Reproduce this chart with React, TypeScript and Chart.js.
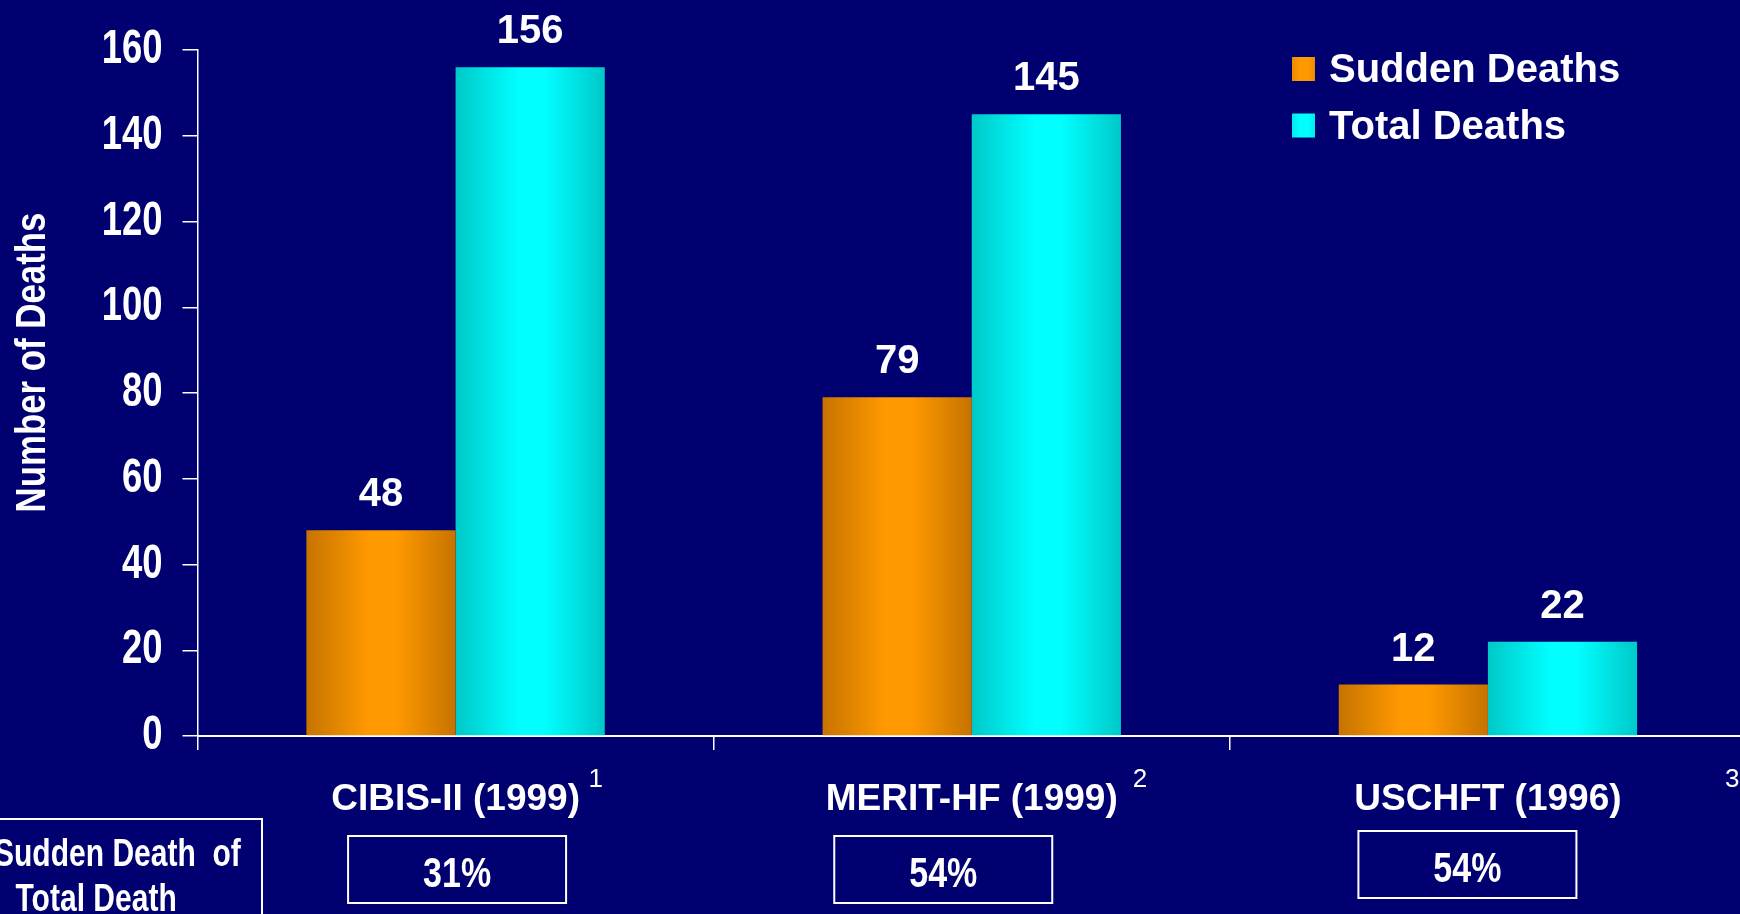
import React, { useEffect, useRef } from 'react';
import { Chart, registerables } from 'chart.js';

Chart.register(...registerables);

// ---- data ----
const studies = ['CIBIS-II (1999)', 'MERIT-HF (1999)', 'USCHFT (1996)'];
const citationMarks = ['1', '2', '3'];
const suddenDeaths = [48, 79, 12];
const totalDeaths = [156, 145, 22];
const suddenShareLabels = ['31%', '54%', '54%'];
const seriesNames = ['Sudden Deaths', 'Total Deaths'];
const yAxisTitle = 'Number of Deaths';
const shareCaption = ['Sudden Death  of', 'Total Death'];
const yMax = 160;
const yStep = 20;

// ---- look ----
const NAVY = '#000070';
const WHITE = '#FFFFFF';
const ORANGE = { dark: '#C67300', light: '#FF9900' };
const CYAN = { dark: '#00C8C8', light: '#00FFFF' };
const SANS = "'Liberation Sans', Arial, Helvetica, sans-serif";

const CANVAS_W = 1746;
const CANVAS_H = 914;
const CATEGORY_PCT = 0.578;

// layout of the annotations below the axis, relative to each category centre
const SUPERSCRIPT_DX = [133, 161, 237];
const SHARE_BOX_DX = [1.5, -28.5, -20.5];
const SHARE_BOX_TOP = [836, 836, 831];
const SHARE_BOX_W = 218;
const SHARE_BOX_H = 67;

type Shades = { dark: string; light: string };

function shadeStops(g: CanvasGradient, s: Shades) {
  g.addColorStop(0, s.dark);
  g.addColorStop(0.42, s.light);
  g.addColorStop(0.6, s.light);
  g.addColorStop(1, s.dark);
  return g;
}

// horizontal "cylinder" shading, one gradient per bar
function barFill(c: any, s: Shades) {
  const chart = c.chart;
  const xs = chart.scales && chart.scales.x;
  if (c.type !== 'data' || !xs || !chart.chartArea) return s.light;
  const n = chart.data.labels.length;
  const catW = xs.width / n;
  const nSets = chart.data.datasets.length;
  const barW = (catW * CATEGORY_PCT) / nSets;
  const left = xs.getPixelForValue(c.dataIndex) - (catW * CATEGORY_PCT) / 2 + c.datasetIndex * barW;
  return shadeStops(chart.ctx.createLinearGradient(left, 0, left + barW, 0), s);
}

const shades: Shades[] = [ORANGE, CYAN];

// condensed bold lettering: a bold face squeezed horizontally
function narrowText(
  ctx: CanvasRenderingContext2D,
  text: string,
  x: number,
  y: number,
  size: number,
  squeeze: number,
  align: CanvasTextAlign,
  baseline: CanvasTextBaseline = 'alphabetic',
  rotate = 0
) {
  ctx.save();
  ctx.translate(x, y);
  if (rotate) ctx.rotate(rotate);
  ctx.scale(squeeze, 1);
  ctx.font = `bold ${size}px ${SANS}`;
  ctx.textAlign = align;
  ctx.textBaseline = baseline;
  ctx.fillText(text, 0, 0);
  ctx.restore();
}

const decorations = {
  id: 'decorations',
  beforeDraw(chart: any) {
    const { ctx } = chart;
    ctx.save();
    ctx.fillStyle = NAVY;
    ctx.fillRect(0, 0, chart.width, chart.height);
    ctx.restore();
  },
  afterDraw(chart: any) {
    const { ctx } = chart;
    const xs = chart.scales.x;
    const ys = chart.scales.y;
    ctx.save();
    ctx.fillStyle = WHITE;
    ctx.strokeStyle = WHITE;

    // y tick labels
    const labelRight = ys.right - 15 - 20;
    ys.ticks.forEach((t: any) => {
      narrowText(ctx, String(t.value), labelRight, ys.getPixelForValue(t.value), 48, 0.76, 'right', 'middle');
    });

    // y axis title
    narrowText(ctx, yAxisTitle, 45, 362.5, 43, 0.81, 'center', 'alphabetic', -Math.PI / 2);

    // value labels above the bars
    ctx.font = `bold 40px ${SANS}`;
    ctx.textAlign = 'center';
    ctx.textBaseline = 'alphabetic';
    chart.data.datasets.forEach((ds: any, di: number) => {
      const meta = chart.getDatasetMeta(di);
      meta.data.forEach((bar: any, i: number) => {
        ctx.fillText(String(ds.data[i]), bar.x, bar.y - 24);
      });
    });

    // legend, top right
    chart.data.datasets.forEach((ds: any, di: number) => {
      const top = 57 + di * 56.5;
      ctx.fillStyle = shadeStops(ctx.createLinearGradient(1280, 0, 1327, 0), shades[di]);
      ctx.fillRect(1292, top, 23, 24);
      ctx.fillStyle = WHITE;
      ctx.font = `bold 40px ${SANS}`;
      ctx.textAlign = 'left';
      ctx.fillText(ds.label, 1329, top + 25);
    });

    // citation superscripts and share boxes per study
    studies.forEach((_, i) => {
      const cx = xs.getPixelForValue(i);
      ctx.font = `26px ${SANS}`;
      ctx.textAlign = 'left';
      ctx.fillText(citationMarks[i], cx + SUPERSCRIPT_DX[i], 787);

      const bx = cx + SHARE_BOX_DX[i] - SHARE_BOX_W / 2;
      const by = SHARE_BOX_TOP[i];
      ctx.lineWidth = 2;
      ctx.strokeRect(bx, by, SHARE_BOX_W, SHARE_BOX_H);
      narrowText(ctx, suddenShareLabels[i], bx + SHARE_BOX_W / 2, by + 51, 42, 0.81, 'center');
    });

    // caption box, bottom left
    ctx.lineWidth = 2;
    ctx.strokeRect(-20, 819, 282, 200);
    narrowText(ctx, shareCaption[0], -6, 866, 38, 0.79, 'left');
    narrowText(ctx, shareCaption[1], 15.5, 911, 38, 0.79, 'left');

    ctx.restore();
  },
};

export default function App() {
  const canvasRef = useRef<HTMLCanvasElement | null>(null);

  useEffect(() => {
    document.body.style.margin = '0';
    document.body.style.background = NAVY;
    const canvas = canvasRef.current;
    if (!canvas) return;
    const chart = new Chart(canvas, {
      type: 'bar',
      data: {
        labels: studies,
        datasets: [
          {
            label: seriesNames[0],
            data: suddenDeaths,
            backgroundColor: (c: any) => barFill(c, ORANGE),
            borderWidth: 0,
            barPercentage: 1,
            categoryPercentage: CATEGORY_PCT,
          },
          {
            label: seriesNames[1],
            data: totalDeaths,
            backgroundColor: (c: any) => barFill(c, CYAN),
            borderWidth: 0,
            barPercentage: 1,
            categoryPercentage: CATEGORY_PCT,
          },
        ],
      },
      options: {
        responsive: false,
        maintainAspectRatio: false,
        animation: false,
        devicePixelRatio: 1,
        layout: { padding: { top: 50, left: 0, right: 0, bottom: 0 } },
        plugins: {
          legend: { display: false },
          tooltip: { enabled: false },
          title: { display: false },
        },
        scales: {
          x: {
            offset: true,
            afterFit: (s: any) => {
              s.height = 178;
            },
            grid: {
              offset: true,
              drawOnChartArea: false,
              drawTicks: true,
              tickLength: 14,
              color: WHITE,
              lineWidth: 1.5,
            },
            border: { display: true, color: WHITE, width: 2 },
            ticks: {
              color: WHITE,
              font: { family: SANS, size: 37, weight: 'bold' },
              padding: 28,
              maxRotation: 0,
              autoSkip: false,
            },
          },
          y: {
            min: 0,
            max: yMax,
            afterFit: (s: any) => {
              s.width = 197.5;
            },
            grid: {
              drawOnChartArea: false,
              drawTicks: true,
              tickLength: 15,
              color: WHITE,
              lineWidth: 1.5,
            },
            border: { display: true, color: WHITE, width: 1.5 },
            ticks: {
              stepSize: yStep,
              display: false,
            },
          },
        },
      },
      plugins: [decorations],
    } as any);
    return () => chart.destroy();
  }, []);

  return (
    <div style={{ width: 1740, height: 914, overflow: 'hidden', background: NAVY, position: 'relative' }}>
      <canvas ref={canvasRef} width={CANVAS_W} height={CANVAS_H} style={{ display: 'block' }} />
    </div>
  );
}
